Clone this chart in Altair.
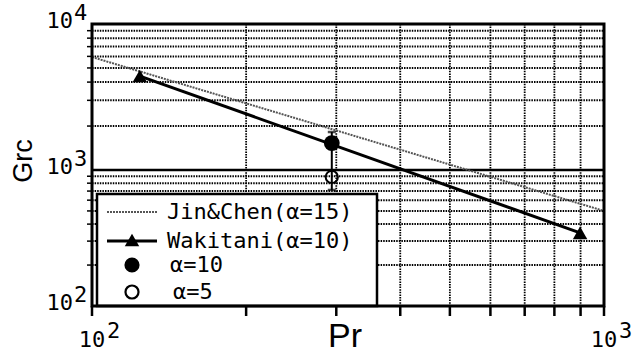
import altair as alt
import pandas as pd

# ---- grid / tick positions (log decades) ----
pr_grid = [200, 300, 400, 500, 600, 700, 800, 900]
pr_ticks = [100, 200, 300, 400, 500, 600, 700, 800, 900, 1000]
grc_grid = [200, 300, 400, 500, 600, 700, 800, 900,
            2000, 3000, 4000, 5000, 6000, 7000, 8000, 9000]
pr_decades = [100, 1000]
pr_exp = ["2", "3"]
grc_decades = [100, 1000, 10000]
grc_exp = ["2", "3", "4"]

# ---- series ----
# Jin & Chen correlation (alpha = 15)
jin_pr = [100, 1000]
jin_grc = [5940, 500]
# Wakitani (alpha = 10)
wak_pr = [124, 898]
wak_grc = [4400, 345]
# measured critical Grashof numbers
meas_pr = [294, 294]
meas_grc = [1530, 889]
meas_alpha = ["α=10", "α=5"]
err_pr = [294]
err_lo = [713]
err_hi = [1820]

legend_labels = ["Jin&Chen(α=15)", "Wakitani(α=10)", "α=10", "α=5"]

W, H = 512, 282
SANS = "Liberation Sans"
NARROW = "Liberation Sans Narrow, Liberation Sans"
MONO = "DejaVu Sans Mono"
GRID_DASH = [1.5, 1.1]

xs = alt.Scale(type="log", domain=[100, 1000], nice=False)
ys = alt.Scale(type="log", domain=[100, 1000, 10000], range=[H, 146, 0], nice=False)


def X(f="pr"):
    return alt.X(f"{f}:Q", scale=xs, axis=None)


def Y(f="grc"):
    return alt.Y(f"{f}:Q", scale=ys, axis=None)


one = pd.DataFrame({"k": [0]})

# grid lines
hgrid = alt.Chart(pd.DataFrame({"grc": grc_grid})).mark_rule(
    color="black", strokeWidth=2, strokeDash=GRID_DASH
).encode(y=Y(), x=alt.value(0), x2=alt.value(W))

vgrid = alt.Chart(pd.DataFrame({"pr": pr_grid})).mark_rule(
    color="black", strokeWidth=1.8, strokeDash=GRID_DASH
).encode(x=X(), y=alt.value(0), y2=alt.value(H))

mid = alt.Chart(pd.DataFrame({"grc": [1000]})).mark_rule(
    color="black", strokeWidth=2.5
).encode(y=Y(), x=alt.value(0), x2=alt.value(W))

# Jin & Chen
jin = alt.Chart(pd.DataFrame({"pr": jin_pr, "grc": jin_grc})).mark_line(
    color="#555555", strokeWidth=2, strokeDash=[2, 1]
).encode(x=X(), y=Y())

# Wakitani
wak_df = pd.DataFrame({"pr": wak_pr, "grc": wak_grc})
wak_line = alt.Chart(wak_df).mark_line(color="black", strokeWidth=3).encode(x=X(), y=Y())
wak_pts = alt.Chart(wak_df).mark_point(
    shape="triangle-up", filled=True, size=210, color="black", opacity=1
).encode(x=X(), y=Y())

# error bar of the measurements
err_df = pd.DataFrame({"pr": err_pr, "lo": err_lo, "hi": err_hi})
err = alt.Chart(err_df).mark_rule(color="black", strokeWidth=2).encode(
    x=X(), y=Y("lo"), y2="hi:Q"
)
caps = alt.Chart(pd.DataFrame({"pr": err_pr * 2, "grc": err_lo + err_hi})).mark_tick(
    color="black", orient="horizontal", size=8, thickness=2.5
).encode(x=X(), y=Y())

meas_df = pd.DataFrame({"pr": meas_pr, "grc": meas_grc, "alpha": meas_alpha})
filled_pt = alt.Chart(meas_df).transform_filter(alt.datum.alpha == "α=10").mark_point(
    shape="circle", filled=True, size=250, color="black", opacity=1
).encode(x=X(), y=Y())
open_pt = alt.Chart(meas_df).transform_filter(alt.datum.alpha == "α=5").mark_point(
    shape="circle", filled=False, size=150, color="black", strokeWidth=2, opacity=1
).encode(x=X(), y=Y())

# legend box
leg_box = alt.Chart(one).mark_rect(
    fill="white", stroke="black", strokeWidth=2.5
).encode(x=alt.value(5), x2=alt.value(285), y=alt.value(170), y2=alt.value(H))

leg_jin = alt.Chart(one).mark_rule(color="#555555", strokeWidth=2, strokeDash=[2, 1]).encode(
    x=alt.value(15), x2=alt.value(65), y=alt.value(188))
leg_wak = alt.Chart(one).mark_rule(color="black", strokeWidth=3).encode(
    x=alt.value(15), x2=alt.value(65), y=alt.value(217))
leg_tri = alt.Chart(one).mark_point(
    shape="triangle-up", filled=True, size=210, color="black", opacity=1
).encode(x=alt.value(40), y=alt.value(216))
leg_fill = alt.Chart(one).mark_point(
    shape="circle", filled=True, size=230, color="black", opacity=1
).encode(x=alt.value(40), y=alt.value(241))
leg_open = alt.Chart(one).mark_point(
    shape="circle", filled=False, size=170, color="black", strokeWidth=2.2, opacity=1
).encode(x=alt.value(40), y=alt.value(268))

leg_pos = [(75, 188), (75, 217), (78, 241), (81, 268)]
leg_text = [
    alt.Chart(one).mark_text(
        font=MONO, fontSize=22, align="left", baseline="middle", color="black"
    ).encode(x=alt.value(px), y=alt.value(py), text=alt.value(lbl))
    for lbl, (px, py) in zip(legend_labels, leg_pos)
]

# frame and outward ticks
frame = alt.Chart(one).mark_rect(fill=None, stroke="black", strokeWidth=3).encode(
    x=alt.value(0), x2=alt.value(W), y=alt.value(0), y2=alt.value(H))

xticks = alt.Chart(pd.DataFrame({"pr": pr_ticks})).mark_rule(color="black", strokeWidth=2.5).encode(
    x=X(), y=alt.value(H), y2=alt.value(H + 10))
yticks = alt.Chart(pd.DataFrame({"grc": grc_grid})).mark_rule(color="black", strokeWidth=1.5).encode(
    y=Y(), x=alt.value(-5), x2=alt.value(0))

# decade labels 10^n
ylab_df = pd.DataFrame({"grc": grc_decades, "exp": grc_exp})
ylab = alt.Chart(ylab_df).mark_text(
    font=MONO, fontSize=22, align="right", baseline="alphabetic", dy=4
).encode(y=Y(), x=alt.value(-19), text=alt.value("10"))
yexp = alt.Chart(ylab_df).mark_text(
    font=MONO, fontSize=22, align="left", baseline="alphabetic", dy=-4
).encode(y=Y(), x=alt.value(-18), text="exp:N")

xlab_df = pd.DataFrame({"pr": pr_decades, "exp": pr_exp})
xlab = alt.Chart(xlab_df).mark_text(
    font=MONO, fontSize=22, align="center", baseline="alphabetic"
).encode(x=X(), y=alt.value(H + 41), text=alt.value("10"))
xexp = alt.Chart(xlab_df).mark_text(
    font=MONO, fontSize=22, align="left", baseline="alphabetic", dx=15
).encode(x=X(), y=alt.value(H + 32), text="exp:N")

# axis titles
ytitle = alt.Chart(one).mark_text(
    font=SANS, fontSize=27, angle=270, align="center", baseline="alphabetic"
).encode(x=alt.value(-60), y=alt.value(137), text=alt.value("Grc"))
xtitle = alt.Chart(one).mark_text(
    font=NARROW, fontSize=34, align="center", baseline="alphabetic"
).encode(x=alt.value(253), y=alt.value(H + 41), text=alt.value("Pr"))

chart = alt.layer(
    hgrid, vgrid, mid, jin, wak_line, wak_pts, err, caps, open_pt, filled_pt,
    leg_box, leg_jin, leg_wak, leg_tri, leg_fill, leg_open, *leg_text,
    frame, xticks, yticks, ylab, yexp, xlab, xexp, ytitle, xtitle
).properties(
    width=W, height=H,
    autosize=alt.AutoSizeParams(type="none"),
    padding={"left": 92, "top": 24, "right": 29, "bottom": 48},
    background="white",
).configure_view(stroke=None)

chart.save("out.html", embed_options={"renderer": "svg", "actions": False})
